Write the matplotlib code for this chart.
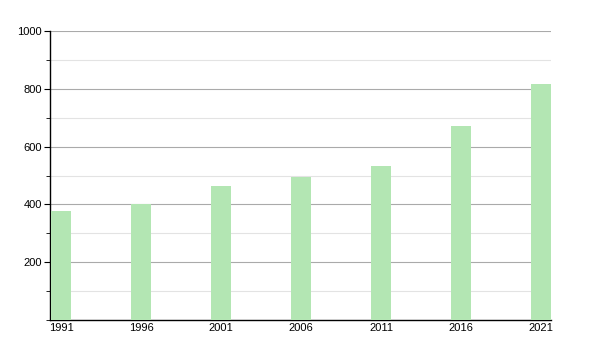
import matplotlib.pyplot as plt
from matplotlib.ticker import MultipleLocator

plt.rcParams['font.family'] = ['Liberation Sans', 'DejaVu Sans']

years = [1991, 1996, 2001, 2006, 2011, 2016, 2021]
values = [377, 402, 464, 496, 532, 673, 815]

fig = plt.figure(figsize=(6, 3.5), dpi=100)
ax = fig.add_axes([50 / 600, 30 / 350, 501 / 600, 289 / 350])

ax.bar(years, values, width=1.25, color='#b3e6b3', zorder=3)

ax.set_xlim(1991 - 0.69, 2021 + 0.625)
ax.set_ylim(0, 1000)
ax.set_xticks(years)
ax.set_xticklabels([str(y) for y in years])
ax.yaxis.set_major_locator(MultipleLocator(200))
ax.yaxis.set_minor_locator(MultipleLocator(100))
ax.set_yticks([200, 400, 600, 800, 1000])

ax.grid(True, axis='y', which='major', color='#aaaaaa', linewidth=0.8, zorder=0)
ax.grid(True, axis='y', which='minor', color='#e3e3e3', linewidth=0.8, zorder=0)

for s in ['top', 'right']:
    ax.spines[s].set_visible(False)
ax.spines['left'].set_linewidth(1)
ax.spines['bottom'].set_linewidth(1)

ax.tick_params(axis='x', length=0, labelsize=8, pad=2)
ax.tick_params(axis='y', which='major', length=4, labelsize=8, pad=2)
ax.tick_params(axis='y', which='minor', length=3)

fig.savefig('out.png', dpi=100)
